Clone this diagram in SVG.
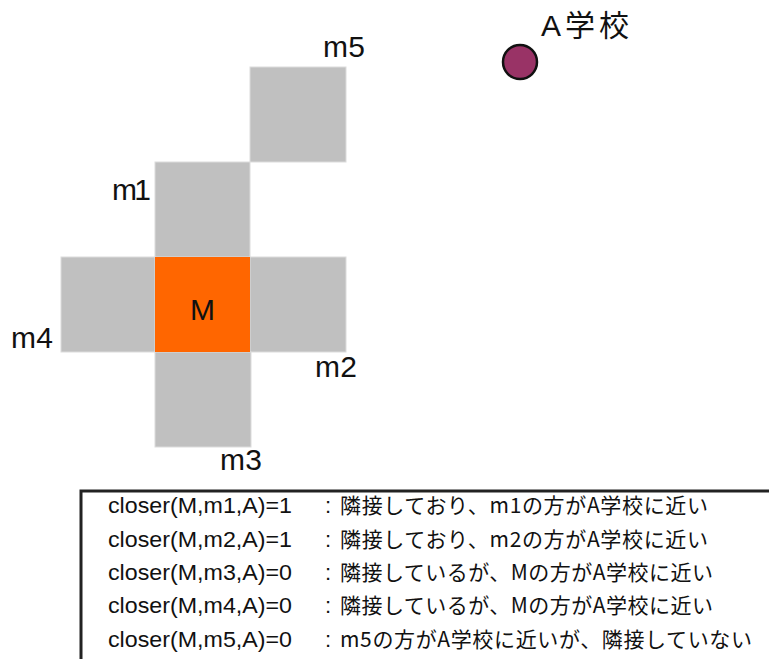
<svg xmlns="http://www.w3.org/2000/svg" width="769" height="659" viewBox="0 0 769 659">
<style>
.cell{fill:#c0c0c0;stroke:#dcdcdc;stroke-width:1}
.lbl{font-family:"Liberation Sans","Noto Sans CJK JP",sans-serif;font-size:30px;fill:#111}
.row{font-family:"Liberation Sans","Noto Sans CJK JP",sans-serif;font-size:22px;fill:#111}
.jp{font-family:"Noto Sans CJK JP","Liberation Sans",sans-serif;font-size:21px;fill:#111}
</style>
<rect width="769" height="659" fill="#fff"/>
<g id="m5"><rect class="cell" x="250" y="67" width="96" height="95"/><text class="lbl" x="323" y="57" textLength="42">m5</text></g>
<g id="m1"><rect class="cell" x="155" y="162" width="95" height="95"/><text class="lbl" x="112" y="200" textLength="39">m1</text></g>
<g id="m4"><rect class="cell" x="61" y="257" width="94" height="95"/><text class="lbl" x="11" y="348" textLength="42">m4</text></g>
<g id="m2"><rect class="cell" x="250" y="257" width="96" height="95"/><text class="lbl" x="315" y="377" textLength="42">m2</text></g>
<g id="m3"><rect class="cell" x="155" y="352" width="96" height="95"/><text class="lbl" x="220" y="470" textLength="42">m3</text></g>
<g id="M"><rect x="155" y="257" width="95" height="95" fill="#ff6600"/><text class="lbl" x="190" y="320" textLength="26">M</text></g>
<g id="school"><circle cx="520" cy="62" r="17" fill="#993366" stroke="#111" stroke-width="2.5"/><text class="lbl" x="541" y="36" textLength="88">A学校</text></g>
<g id="legend">
<rect x="81" y="491" width="720" height="200" fill="#fff" stroke="#222" stroke-width="3"/>
<text class="row" x="108" y="513" textLength="184" lengthAdjust="spacingAndGlyphs">closer(M,m1,A)=1</text>
<text class="row" x="325" y="513">:</text>
<text class="jp" x="340" y="513" textLength="368">隣接しており、m1の方がA学校に近い</text>
<text class="row" x="108" y="547" textLength="184" lengthAdjust="spacingAndGlyphs">closer(M,m2,A)=1</text>
<text class="row" x="325" y="547">:</text>
<text class="jp" x="340" y="547" textLength="368">隣接しており、m2の方がA学校に近い</text>
<text class="row" x="108" y="580" textLength="184" lengthAdjust="spacingAndGlyphs">closer(M,m3,A)=0</text>
<text class="row" x="325" y="580">:</text>
<text class="jp" x="340" y="580" textLength="373">隣接しているが、Mの方がA学校に近い</text>
<text class="row" x="108" y="613" textLength="184" lengthAdjust="spacingAndGlyphs">closer(M,m4,A)=0</text>
<text class="row" x="325" y="613">:</text>
<text class="jp" x="340" y="613" textLength="373">隣接しているが、Mの方がA学校に近い</text>
<text class="row" x="108" y="647" textLength="184" lengthAdjust="spacingAndGlyphs">closer(M,m5,A)=0</text>
<text class="row" x="325" y="647">:</text>
<text class="jp" x="340" y="647" textLength="412">m5の方がA学校に近いが、隣接していない</text>
</g>
</svg>
